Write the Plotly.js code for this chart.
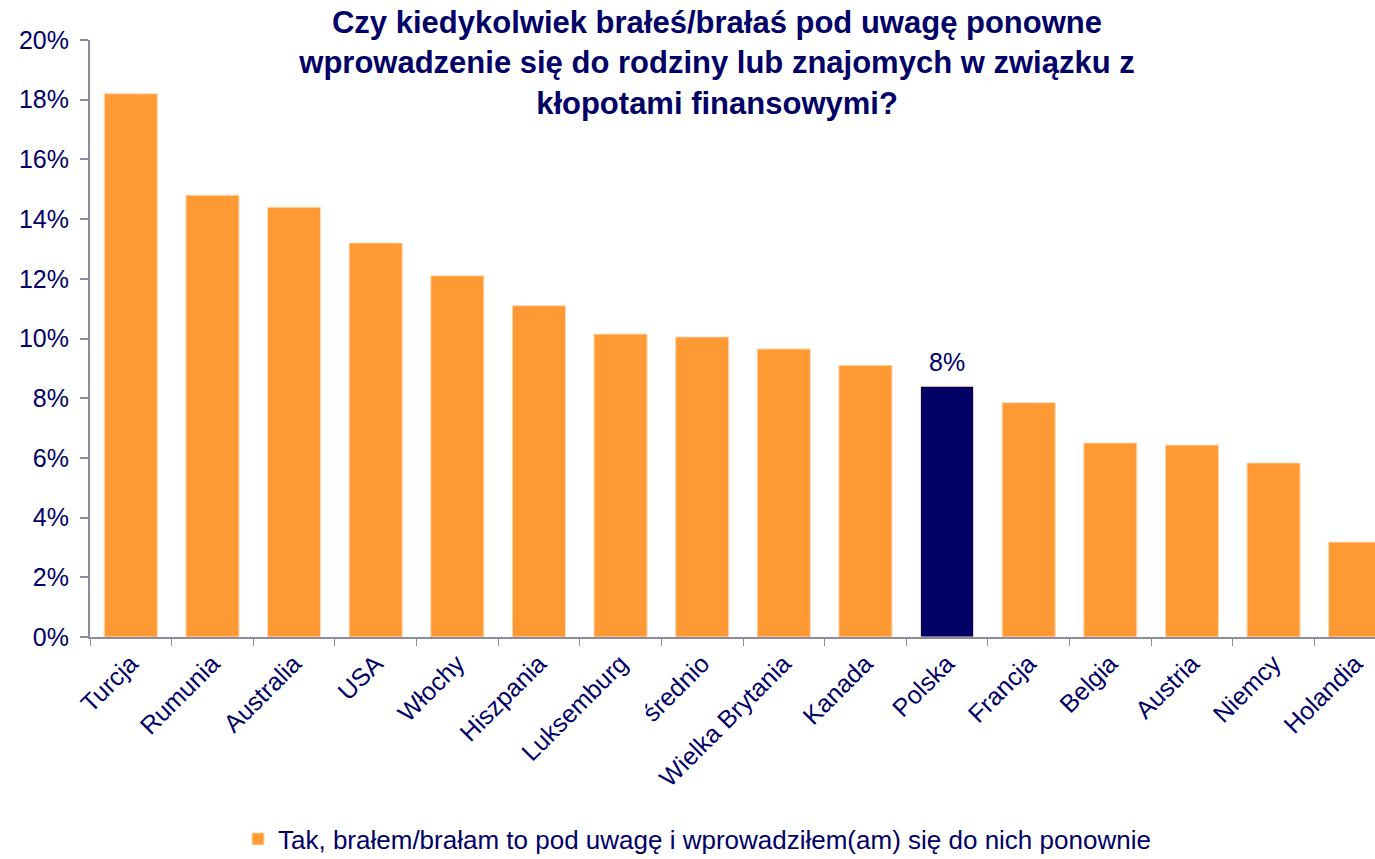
<!DOCTYPE html>
<html>
<head>
<meta charset="utf-8">
<script src="https://cdn.plot.ly/plotly-3.0.1.min.js"></script>
<style>
html,body{margin:0;padding:0;overflow:hidden;background:#fff;}
#chart{width:1400px;height:859px;}
</style>
</head>
<body>
<div id="chart"></div>
<script>
const categories = ["Turcja","Rumunia","Australia","USA","Włochy","Hiszpania","Luksemburg","średnio","Wielka Brytania","Kanada","Polska","Francja","Belgia","Austria","Niemcy","Holandia"];
const values = [18.2, 14.8, 14.4, 13.2, 12.1, 11.1, 10.15, 10.05, 9.65, 9.1, 8.4, 7.85, 6.5, 6.43, 5.83, 3.18];
const highlight = "Polska";
const highlightLabel = "8%";
const seriesName = "Tak, brałem/brałam to pod uwagę i wprowadziłem(am) się do nich ponownie";
const yTickVals = [0,2,4,6,8,10,12,14,16,18,20];
const yTickText = ["0%","2%","4%","6%","8%","10%","12%","14%","16%","18%","20%"];

const orange = "#FF9933";
const navy = "#000066";
const colors = categories.map(c => c === highlight ? navy : orange);
const hIdx = categories.indexOf(highlight);

const trace = {
  type: "bar",
  x: categories,
  y: values,
  name: seriesName,
  marker: {color: colors, line: {color: "#FFD9B3", width: 1}},
  hoverinfo: "x+y"
};

const layout = {
  width: 1400,
  height: 859,
  margin: {l: 90, r: 4, t: 40, b: 222, autoexpand: false},
  paper_bgcolor: "#fff",
  plot_bgcolor: "#fff",
  font: {family: "Liberation Sans, Arial, sans-serif", color: navy, size: 25},
  title: {
    text: "Czy kiedykolwiek brałeś/brałaś pod uwagę ponowne<br>wprowadzenie się do rodziny lub znajomych w związku z<br>kłopotami finansowymi?",
    font: {family: "Liberation Sans, Arial, sans-serif", size: 31, color: navy, weight: "bold"},
    x: 717/1400, xanchor: "center", xref: "container",
    y: 1 - 33/859, yanchor: "middle", yref: "container"
  },
  annotations: [{
    x: highlight, y: values[hIdx], xref: "x", yref: "y",
    text: highlightLabel, showarrow: false,
    yanchor: "bottom", yshift: 8,
    font: {family: "Liberation Sans, Arial, sans-serif", size: 25, color: navy}
  }],
  bargap: 0.35,
  showlegend: true,
  legend: {
    orientation: "h",
    x: (238 - 90) / 1306, xanchor: "left",
    y: (637 - 839) / 597, yanchor: "middle",
    font: {size: 26, color: navy},
    bgcolor: "rgba(0,0,0,0)"
  },
  xaxis: {
    type: "category",
    automargin: false,
    tickangle: -45,
    ticks: "outside",
    tickson: "boundaries",
    ticklen: 7,
    tickcolor: "#8C8CA0",
    showline: true,
    linecolor: "#8C8CA0",
    linewidth: 2,
    showgrid: false,
    tickfont: {size: 25, color: navy},
    range: [-0.5, 15.5],
    fixedrange: true
  },
  yaxis: {
    automargin: false,
    range: [0, 20],
    tickvals: yTickVals,
    ticktext: yTickText,
    ticks: "outside",
    ticklen: 8,
    tickcolor: "#8C8CA0",
    tickwidth: 2,
    ticklabelstandoff: 6,
    showline: true,
    linecolor: "#8C8CA0",
    linewidth: 2,
    showgrid: false,
    zeroline: false,
    tickfont: {size: 25, color: navy},
    fixedrange: true
  }
};

Plotly.newPlot("chart", [trace], layout, {displayModeBar: false, staticPlot: true});
</script>
</body>
</html>
